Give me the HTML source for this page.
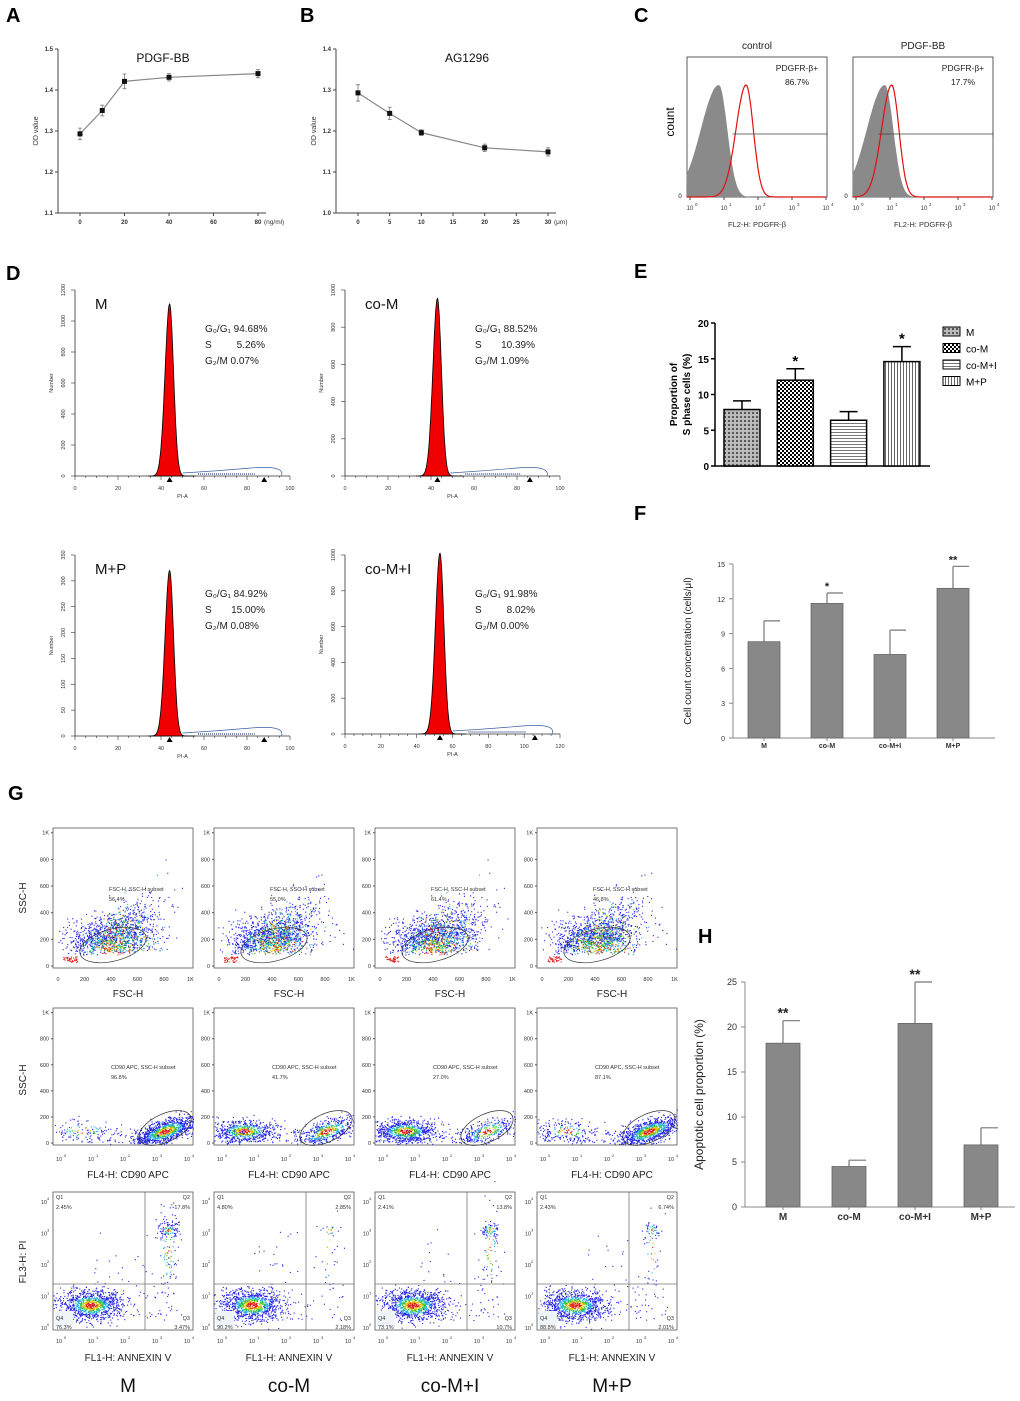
<!DOCTYPE html>
<html><head><meta charset="utf-8"><style>
html,body{margin:0;padding:0;background:#fff;}
svg{display:block;font-family:"Liberation Sans",Arial,sans-serif;}
</style></head><body>
<svg id="fig" width="1020" height="1401" viewBox="0 0 1020 1401" xmlns="http://www.w3.org/2000/svg">
<g font-weight="bold" font-size="20" fill="#000">
<text x="6" y="22">A</text>
<text x="300" y="22">B</text>
<text x="634" y="22">C</text>
<text x="6" y="280">D</text>
<text x="634" y="278">E</text>
<text x="634" y="520">F</text>
<text x="8" y="800">G</text>
<text x="698" y="943">H</text>
</g>
</svg>
<script>
const NS="http://www.w3.org/2000/svg";
const svg=document.getElementById('fig');
function mk(t,a,p){const e=document.createElementNS(NS,t);for(const k in a)e.setAttribute(k,a[k]);(p||svg).appendChild(e);return e;}
function tx(x,y,s,a,p){const e=mk('text',Object.assign({x:x,y:y},a||{}),p);e.textContent=s;return e;}

// ---------- Panel A/B data ----------
const aDoses=[0,10,20,40,80];
const aOD=[1.293,1.350,1.421,1.431,1.440];
const aErr=[0.014,0.013,0.018,0.009,0.010];
const aYTicks=[1.1,1.2,1.3,1.4,1.5];
const aXTicks=[0,20,40,60,80];
const bDoses=[0,5,10,20,30];
const bOD=[1.293,1.243,1.196,1.159,1.149];
const bErr=[0.020,0.015,0.007,0.009,0.010];
const bYTicks=[1.0,1.1,1.2,1.3,1.4];
const bXTicks=[0,5,10,15,20,25,30];

function lineChart(name,x0,x1,xmin,xmax,y0,y1,ymin,ymax,xs,ys,es,xt,yt,title,unit,titleX){
  const g=mk('g',{});
  
  
  const X=v=>x0+(v-xmin)/(xmax-xmin)*(x1-x0);
  const Y=v=>y0-(v-ymin)/(ymax-ymin)*(y0-y1);
  const ax=mk('path',{d:`M${x0-22},${y1} V${y0} H${x1+8}`,stroke:'#444',fill:'none','stroke-width':1},g);
  
  
  yt.forEach(v=>{mk('line',{x1:x0-25,x2:x0-22,y1:Y(v),y2:Y(v),stroke:'#444'},g);
    tx(x0-27,Y(v)+2,v.toFixed(1),{'font-size':6,'font-weight':'bold','text-anchor':'end',fill:'#333'},g);});
  xt.forEach(v=>{mk('line',{x1:X(v),x2:X(v),y1:y0,y2:y0+3,stroke:'#444'},g);
    tx(X(v),y0+11,String(v),{'font-size':6,'font-weight':'bold','text-anchor':'middle',fill:'#333'},g);});
  tx(x1+6,y0+11,unit,{'font-size':6.5,fill:'#333'},g);
  const yl=tx(0,0,'OD value',{'font-size':7,fill:'#333','text-anchor':'middle',transform:`translate(${x0-42},${(y0+y1)/2}) rotate(-90)`},g);
  
  
  const tt=tx(titleX,y1+13,title,{'font-size':12,fill:'#111','text-anchor':'middle'},g);
  
  
  let d='';xs.forEach((v,i)=>{d+=(i?'L':'M')+X(v)+','+Y(ys[i]);});
  const ln=mk('path',{d:d,stroke:'#888',fill:'none','stroke-width':1.2},g);
  
  
  xs.forEach((v,i)=>{
    mk('path',{d:`M${X(v)},${Y(ys[i]+es[i])}V${Y(ys[i]-es[i])}M${X(v)-2},${Y(ys[i]+es[i])}h4M${X(v)-2},${Y(ys[i]-es[i])}h4`,stroke:'#777','stroke-width':0.8,fill:'none'},g);
    const p=mk('rect',{x:X(v)-2.5,y:Y(ys[i])-2.5,width:5,height:5,fill:'#111'},g);
    
    
  });
}
lineChart('chart-a-pdgf-bb',80,258,0,80,213,49,1.1,1.5,aDoses,aOD,aErr,aXTicks,aYTicks,'PDGF-BB','(ng/ml)',163);
lineChart('chart-b-ag1296',358,548,0,30,213,49,1.0,1.4,bDoses,bOD,bErr,bXTicks,bYTicks,'AG1296','(μm)',467);

// ---------- Panel C ----------
const cTitles=['control','PDGF-BB'];
const cPct=['86.7%','17.7%'];
const cGrayPeak=[0.85,0.85];
const cRedPeak=[1.65,1.05];
function hist(name,bx,title,pct,gp,rp){
  const g=mk('g',{});
  
  
  const x0=bx,x1=bx+140,y0=197,y1=57;
  const X=l=>x0+3+(l)*34;
  mk('rect',{x:x0,y:y1,width:140,height:140,fill:'none',stroke:'#333','stroke-width':0.8},g);
  function curve(p,wl,wr,h){let d=`M${x0},${y0}`;for(let l=-0.1;l<=4;l+=0.03){const w=l<p?wl:wr;const v=Math.exp(-Math.pow((l-p)/w,2))*h;d+=`L${X(l).toFixed(1)},${(y0-v).toFixed(1)}`;}return d;}
  const gr=mk('path',{d:curve(gp,0.75,0.35,112)+`L${x1},${y0}Z`,fill:'#8a8a8a'},g);
  
  
  const rd=mk('path',{d:curve(rp,0.42,0.3,112),fill:'none',stroke:'#e01010','stroke-width':1.2},g);
  
  
  const gx=X(rp-0.4);
  mk('path',{d:`M${gx},134H${x1}M${x1},131v6`,stroke:'#444','stroke-width':0.8},g);
  tx((x0+x1)/2,49,title,{'font-size':10,'text-anchor':'middle',fill:'#222'},g);
  tx(x1-30,71,'PDGFR-β+',{'font-size':8.5,'text-anchor':'middle',fill:'#222'},g);
  tx(x1-30,85,pct,{'font-size':8.5,'text-anchor':'middle',fill:'#222'},g);
  tx(x0-7,198,'0',{'font-size':6,'text-anchor':'middle'},g);
  for(let k=0;k<=4;k++){tx(X(k),210,'10',{'font-size':6,'text-anchor':'middle',fill:'#333'},g);tx(X(k)+5,206,String(k),{'font-size':4.5,fill:'#333'},g);mk('line',{x1:X(k),x2:X(k),y1:y0,y2:y0+3,stroke:'#444'},g);}
  tx((x0+x1)/2,227,'FL2-H: PDGFR-β',{'font-size':7.5,'text-anchor':'middle',fill:'#333'},g);
}
hist('histogram-control',687,cTitles[0],cPct[0],cGrayPeak[0],cRedPeak[0]);
hist('histogram-pdgf-bb',853,cTitles[1],cPct[1],cGrayPeak[1],cRedPeak[1]);
tx(0,0,'count',{'font-size':12,'text-anchor':'middle',transform:'translate(674,122) rotate(-90)'});

// ---------- Panel D ----------
const dNames=['M','co-M','M+P','co-M+I'];
const dG1=['94.68%','88.52%','84.92%','91.98%'];
const dS=['5.26%','10.39%','15.00%','8.02%'];
const dG2=['0.07%','1.09%','0.08%','0.00%'];
const dPeakPos=[44,43,44,53];
const dXmax=[100,100,100,120];
const dYTicks=[[0,200,400,600,800,1000,1200],[0,200,400,600,800,1000],[0,50,100,150,200,250,300,350],[0,200,400,600,800,1000]];
const dPeakH=[1110,955,320,1010];
const dYmax=[1200,1000,350,1000];
const dBox=[[75,290,476],[345,290,476],[75,555,736],[345,555,734]];
dNames.forEach((nm,i)=>{
  const g=mk('g',{});
  
  
  const [x0,y1,y0]=dBox[i];const x1=x0+215;
  const X=v=>x0+v/dXmax[i]*215;const Y=v=>y0-v/dYmax[i]*(y0-y1);
  mk('path',{d:`M${x0},${y1}V${y0}H${x1}`,stroke:'#333',fill:'none','stroke-width':0.8},g);
  dYTicks[i].forEach(v=>{mk('line',{x1:x0-4,x2:x0,y1:Y(v),y2:Y(v),stroke:'#333','stroke-width':0.6},g);
    tx(0,0,String(v),{'font-size':5.5,'text-anchor':'middle',fill:'#333',transform:`translate(${x0-10},${Y(v)}) rotate(-90)`},g);});
  for(let v=0;v<=dXmax[i];v+=5){mk('line',{x1:X(v),x2:X(v),y1:y0,y2:y0+(v%20?2:4),stroke:'#333','stroke-width':0.6},g);}
  for(let v=0;v<=dXmax[i];v+=20)tx(X(v),y0+14,String(v),{'font-size':5.5,'text-anchor':'middle',fill:'#333'},g);
  tx((x0+x1)/2,y0+22,'PI-A',{'font-size':5.5,'text-anchor':'middle',fill:'#333'},g);
  tx(0,0,'Number',{'font-size':5.5,'text-anchor':'middle',fill:'#333',transform:`translate(${x0-22},${(y0+y1)/2}) rotate(-90)`},g);
  const p=dPeakPos[i],h=dPeakH[i];
  const sc=dXmax[i]/100;
  let d=`M${X(p-10*sc)},${y0}`;for(let v=p-10*sc;v<=p+12*sc;v+=0.2){const w=(v<p?3.0:2.6)*sc;d+=`L${X(v).toFixed(1)},${Y(h*Math.exp(-Math.pow((v-p)/w,2))).toFixed(1)}`;}d+=`L${X(p+12*sc)},${y0}Z`;
  const pk=mk('path',{d:d,fill:'#f00000',stroke:'#000','stroke-width':0.8},g);
  
  
  mk('path',{d:`M${X(p+6*sc)},${y0-3}Q${X(p*1.5)},${y0-5} ${X(p*2-6*sc)},${y0-8} T${X(p*2+8*sc)},${y0}`,fill:'none',stroke:'#3a5fa0','stroke-width':0.7},g);
  mk('path',{d:`M${X(p*1.3)},${y0-2}H${X(p*1.9)}`,stroke:'#7a8ab0','stroke-width':2,'stroke-dasharray':'1 1'},g);
  mk('path',{d:`M${X(p)-3},${y0+6}l3,-5l3,5z M${X(p*2)-3},${y0+6}l3,-5l3,5z`,fill:'#000'},g);
  tx(x0+20,y1+19,nm,{'font-size':15,fill:'#111'},g);
  tx(x1-85,y1+42,'G₀/G₁ '+dG1[i],{'font-size':10,fill:'#222'},g);
  tx(x1-85,y1+58,'S',{'font-size':10,fill:'#222'},g);tx(x1-25,y1+58,dS[i],{'font-size':10,fill:'#222','text-anchor':'end'},g);
  tx(x1-85,y1+74,'G₂/M  '+dG2[i],{'font-size':10,fill:'#222'},g);
});

// ---------- Panel E ----------
const eGroups=['M','co-M','co-M+I','M+P'];
const eValues=[7.9,12.0,6.4,14.6];
const eErrors=[1.2,1.6,1.2,2.1];
const eStars=['','*','','*'];
const eTicks=[0,5,10,15,20];
(function(){
  const defs=mk('defs',{});
  const p1=mk('pattern',{id:'pm',width:4,height:4,patternUnits:'userSpaceOnUse'},defs);mk('rect',{width:4,height:4,fill:'#bbb'},p1);mk('rect',{width:2,height:2,fill:'#555'},p1);
  const p2=mk('pattern',{id:'pc',width:4,height:4,patternUnits:'userSpaceOnUse'},defs);mk('rect',{width:4,height:4,fill:'#fff'},p2);mk('rect',{width:2,height:2,fill:'#000'},p2);mk('rect',{x:2,y:2,width:2,height:2,fill:'#000'},p2);
  const p3=mk('pattern',{id:'ph',width:4,height:3,patternUnits:'userSpaceOnUse'},defs);mk('rect',{width:4,height:3,fill:'#fff'},p3);mk('rect',{width:4,height:1,fill:'#777'},p3);
  const p4=mk('pattern',{id:'pv',width:3,height:4,patternUnits:'userSpaceOnUse'},defs);mk('rect',{width:3,height:4,fill:'#fff'},p4);mk('rect',{width:1,height:4,fill:'#666'},p4);
  const fills=['url(#pm)','url(#pc)','url(#ph)','url(#pv)'];
  const g=mk('g',{});
  
  
  const x0=715,y0=466,y1=323;const Y=v=>y0-v/20*(y0-y1);const bw=36,cx=i=>742+i*53.3;
  mk('path',{d:`M${x0},${y1}V${y0}H930`,stroke:'#000',fill:'none','stroke-width':1.5},g);
  eTicks.forEach(v=>{mk('line',{x1:x0-4,x2:x0,y1:Y(v),y2:Y(v),stroke:'#000','stroke-width':1.5},g);tx(x0-6,Y(v)+4,String(v),{'font-size':10,'font-weight':'bold','text-anchor':'end'},g);});
  tx(0,0,'Proportion of',{'font-size':10,'font-weight':'bold','text-anchor':'middle',transform:`translate(677,${Y(10)}) rotate(-90)`},g);
  tx(0,0,'S phase cells (%)',{'font-size':10,'font-weight':'bold','text-anchor':'middle',transform:`translate(690,${Y(10)}) rotate(-90)`},g);
  eValues.forEach((v,i)=>{
    mk('path',{d:`M${cx(i)},${Y(v)}V${Y(v+eErrors[i])}M${cx(i)-9},${Y(v+eErrors[i])}h18`,stroke:'#000','stroke-width':1.5},g);
    const b=mk('rect',{x:cx(i)-bw/2,y:Y(v),width:bw,height:y0-Y(v),fill:fills[i],stroke:'#000','stroke-width':1.5},g);
    
    
    if(eStars[i])tx(cx(i),Y(v+eErrors[i])-3,eStars[i],{'font-size':15,'font-weight':'bold','text-anchor':'middle'},g);
    const ly=327+i*16.5;
    const lr=mk('rect',{x:943,y:ly,width:17,height:9,fill:fills[i],stroke:'#000','stroke-width':1},g);
    
    
    tx(966,ly+9,eGroups[i],{'font-size':10},g);
  });
})();

// ---------- Panel F & H ----------
const fGroups=['M','co-M','co-M+I','M+P'];
const fValues=[8.3,11.6,7.2,12.9];
const fErrors=[1.8,0.9,2.1,1.9];
const fStars=['','*','','**'];
const fTicks=[0,3,6,9,12,15];
const hGroups=['M','co-M','co-M+I','M+P'];
const hValues=[18.2,4.5,20.4,6.9];
const hErrors=[2.5,0.7,4.6,1.9];
const hStars=['**','','**',''];
const hTicks=[0,5,10,15,20,25];
function grayBars(name,x0,x1,y0,y1,ymax,groups,vals,errs,stars,ticks,c0,step,bw,ylab,fs,starSize,lblSize){
  const g=mk('g',{});
  
  
  const Y=v=>y0-v/ymax*(y0-y1);
  mk('path',{d:`M${x0},${y1}V${y0}H${x1}`,stroke:'#888',fill:'none','stroke-width':1},g);
  ticks.forEach(v=>{mk('line',{x1:x0-4,x2:x0,y1:Y(v),y2:Y(v),stroke:'#888'},g);tx(x0-8,Y(v)+3,String(v),{'font-size':fs,'text-anchor':'end',fill:'#333'},g);});
  vals.forEach((v,i)=>{const cx=c0+i*step;
    mk('path',{d:`M${cx},${Y(v)}V${Y(v+errs[i])}M${cx},${Y(v+errs[i])}h${bw/2}`,stroke:'#777','stroke-width':1.2},g);
    const b=mk('rect',{x:cx-bw/2,y:Y(v),width:bw,height:y0-Y(v),fill:'#888',stroke:'#666','stroke-width':0.8},g);
    
    
    if(stars[i])tx(cx,Y(v+errs[i])-3,stars[i],{'font-size':starSize,'font-weight':'bold','text-anchor':'middle',fill:'#222'},g);
    mk('line',{x1:cx,x2:cx,y1:y0,y2:y0+3,stroke:'#888'},g);
    tx(cx,y0+lblSize+3,groups[i],{'font-size':lblSize,'font-weight':'bold','text-anchor':'middle',fill:'#333'},g);
  });
  tx(0,0,ylab,{'font-size':fs+3,'text-anchor':'middle',fill:'#222',transform:`translate(${x0-42},${(y0+y1)/2}) rotate(-90)`},g);
}
grayBars('chart-f-cell-count',733,995,738,564,15,fGroups,fValues,fErrors,fStars,fTicks,764,63,32,'Cell count concentration (cells/μl)',7,11,7);
grayBars('chart-h-apoptosis',745,1015,1207,982,25,hGroups,hValues,hErrors,hStars,hTicks,783,66,34,'Apoptotic cell proportion (%)',9,14,10);

// ---------- Panel G ----------
const gGroups=['M','co-M','co-M+I','M+P'];
const gCols=[53,214,375,537];
const gRow1Pct=['56.4%','55.0%','61.4%','46.8%'];
const gRow2Pct=['96.8%','41.7%','27.0%','87.1%'];
const gQ1=['2.45%','4.80%','2.41%','2.43%'];
const gQ2=['17.8%','2.85%','13.8%','6.74%'];
const gQ3=['3.47%','2.18%','10.7%','2.01%'];
const gQ4=['76.3%','90.2%','73.1%','88.8%'];
const gRow2Low=[0.08,0.55,0.7,0.15];
const gApop=[0.2,0.03,0.14,0.08];
let seed=12345;function rnd(){seed=(seed*1103515245+12345)%2147483648;return seed/2147483648;}
function gauss(){return (rnd()+rnd()+rnd()+rnd()-2)/0.58;}
function dot(g,x,y,d){const c=d>2.8?'#e02020':d>2.55?'#e0c000':d>2.2?'#30c040':d>1.7?'#20b0e0':'#2424e6';mk('rect',{x:x.toFixed(1),y:y.toFixed(1),width:1.1,height:1.1,fill:c},g);}
function plotFrame(g,x0,yT,w,h,ylog){
  mk('rect',{x:x0,y:yT,width:w,height:h,fill:'#fff',stroke:'#555','stroke-width':0.8},g);
  if(!ylog){['0','200','400','600','800','1K'].forEach((s,k)=>{const y=yT+h-2-k*(h-4)/5*0.98;tx(x0-4,y+2,s,{'font-size':5.5,'text-anchor':'end',fill:'#333'},g);mk('line',{x1:x0-2,x2:x0,y1:y,y2:y,stroke:'#555'},g);});}
  else{for(let k=0;k<=4;k++){const y=yT+h-3-k*(h-12)/4;tx(x0-6,y+3,'10',{'font-size':5.5,'text-anchor':'end',fill:'#333'},g);tx(x0-6,y-1,String(k),{'font-size':4,fill:'#333'},g);}}
}
for(let c=0;c<4;c++){
  const x0=gCols[c],w=140;
  let g=mk('g',{});
  
  
  plotFrame(g,x0,828,w,140,false);
  for(let k=0;k<1400;k++){const a=gauss(),b=gauss();const dd=Math.exp(-(a*a+b*b)/2)*3;const x=x0+48+a*20+Math.abs(gauss())*18;const y=955-Math.abs(b*10+a*6)-Math.abs(gauss())*(x-x0)*0.25;if(x>x0&&x<x0+w&&y>830)dot(g,x,y,dd);}
  for(let k=0;k<40;k++)dot(g,x0+10+rnd()*14,962-rnd()*6,2.9);
  mk('ellipse',{cx:x0+60,cy:945,rx:34,ry:16,transform:`rotate(-15 ${x0+60} 945)`,fill:'none',stroke:'#333','stroke-width':0.7},g);
  tx(x0+56,891,'FSC-H, SSC-H subset',{'font-size':5.5,fill:'#333'},g);
  tx(x0+56,901,gRow1Pct[c],{'font-size':5.5,fill:'#333'},g);
  ['0','200','400','600','800','1K'].forEach((s,k)=>tx(x0+5+k*26.5,981,s,{'font-size':5.5,'text-anchor':'middle',fill:'#333'},g));
  tx(x0+w/2+5,997,'FSC-H',{'font-size':10,'text-anchor':'middle',fill:'#222'},g);
  g=mk('g',{});
  
  
  plotFrame(g,x0,1008,w,137,false);
  const N2=1100,nLow=Math.round(N2*gRow2Low[c]);
  for(let k=0;k<N2;k++){const low=k<nLow;const a=gauss(),b=gauss();const dd=Math.exp(-(a*a+b*b)/2)*3;const cx=low?x0+30:x0+112,sx=low?16:16;const x=cx+a*sx;const y=1131-b*6-a*(low?0:5);if(x>x0&&x<x0+w&&y>1012&&y<1144)dot(g,x,y,dd);}
  for(let k=0;k<90;k++)dot(g,x0+5+rnd()*100,1142-rnd()*14,0.3);
  mk('ellipse',{cx:x0+112,cy:1128,rx:28,ry:14,transform:`rotate(-25 ${x0+112} 1128)`,fill:'none',stroke:'#333','stroke-width':0.7},g);
  tx(x0+58,1069,'CD90 APC, SSC-H subset',{'font-size':5.5,fill:'#333'},g);
  tx(x0+58,1079,gRow2Pct[c],{'font-size':5.5,fill:'#333'},g);
  for(let k=0;k<=4;k++){tx(x0+6+k*32,1161,'10',{'font-size':5.5,'text-anchor':'middle',fill:'#333'},g);tx(x0+11+k*32,1157,String(k),{'font-size':4,fill:'#333'},g);}
  tx(x0+w/2+5,1178,'FL4-H: CD90 APC',{'font-size':10,'text-anchor':'middle',fill:'#222'},g);
  g=mk('g',{});
  
  
  plotFrame(g,x0,1192,w,138,true);
  for(let k=0;k<1000;k++){const a=gauss(),b=gauss();const dd=Math.exp(-(a*a+b*b)/2)*3;const x=x0+38+a*16;const y=1305+b*8;if(x>x0&&y<1329)dot(g,x,y,dd);}
  const na=Math.round(900*gApop[c]);
  for(let k=0;k<na;k++){const a=gauss(),b=gauss();const x=x0+115+a*5;const y=1230+b*(k%2?4:25)+(k%2?0:20);dot(g,x,y,Math.exp(-(a*a+b*b)/2)*2.9);}
  for(let k=0;k<80;k++)dot(g,x0+40+rnd()*90,1320-rnd()*rnd()*110,0.3);
  mk('rect',{x:x0+2,y:1311,width:18,height:16,fill:'#eef4f8'},g);
  mk('path',{d:`M${x0+92},1192V1330M${x0},1284H${x0+w}`,stroke:'#777','stroke-width':0.8},g);
  tx(x0+3,1199,'Q1',{'font-size':5.5,fill:'#333'},g);tx(x0+3,1209,gQ1[c],{'font-size':5.5,fill:'#333'},g);
  tx(x0+w-3,1199,'Q2',{'font-size':5.5,fill:'#333','text-anchor':'end'},g);tx(x0+w-3,1209,gQ2[c],{'font-size':5.5,fill:'#333','text-anchor':'end'},g);
  tx(x0+3,1320,'Q4',{'font-size':5.5,fill:'#333'},g);tx(x0+3,1329,gQ4[c],{'font-size':5.5,fill:'#333'},g);
  tx(x0+w-3,1320,'Q3',{'font-size':5.5,fill:'#333','text-anchor':'end'},g);tx(x0+w-3,1329,gQ3[c],{'font-size':5.5,fill:'#333','text-anchor':'end'},g);
  for(let k=0;k<=4;k++){tx(x0+6+k*32,1343,'10',{'font-size':5.5,'text-anchor':'middle',fill:'#333'},g);tx(x0+11+k*32,1339,String(k),{'font-size':4,fill:'#333'},g);}
  tx(x0+w/2+5,1361,'FL1-H: ANNEXIN  V',{'font-size':10,'text-anchor':'middle',fill:'#222'},g);
  const gl=tx(x0+w/2+5,1392,gGroups[c],{'font-size':19,'text-anchor':'middle',fill:'#111'});
  
  
}
[['SSC-H',898],['SSC-H',1080],['FL3-H: PI',1262]].forEach(([s,y])=>tx(0,0,s,{'font-size':10,'text-anchor':'middle',fill:'#222',transform:`translate(26,${y}) rotate(-90)`}));
</script>
</body></html>
